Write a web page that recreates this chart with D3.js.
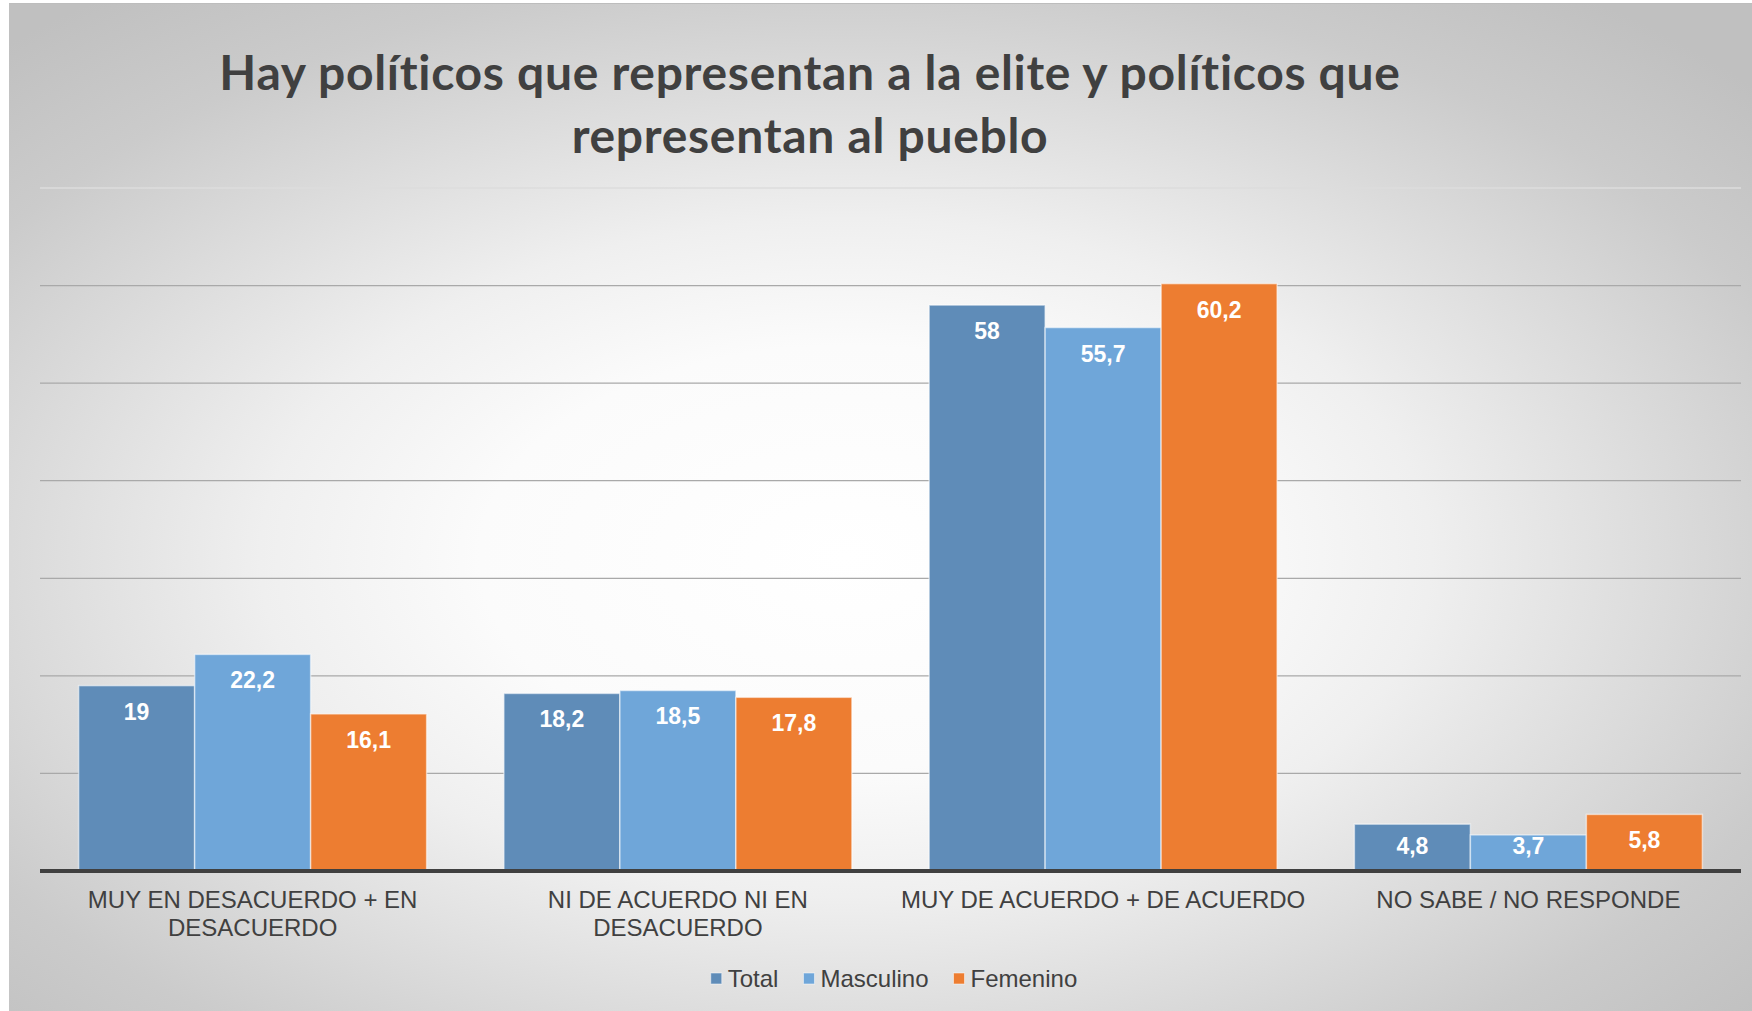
<html>
<head>
  <meta charset="utf-8">
  <title>Hay políticos que representan a la elite</title>
  <style>
    body { margin: 0; background: #ffffff; }
    svg { display: block; }
  </style>
  <script src="https://d3js.org/d3.v7.min.js"></script>
</head>
<body>
  <div id="chart"></div>
  <script>
    // Data
    var categories = ["MUY EN DESACUERDO + EN DESACUERDO", "NI DE ACUERDO NI EN DESACUERDO", "MUY DE ACUERDO + DE ACUERDO", "NO SABE / NO RESPONDE"];
    var seriesNames = ["Total", "Masculino", "Femenino"];
    var total = [19, 18.2, 58, 4.8];
    var masculino = [22.2, 18.5, 55.7, 3.7];
    var femenino = [16.1, 17.8, 60.2, 5.8];
    var titleLines = ["Hay políticos que representan a la elite y políticos que", "representan al pueblo"];

    var seriesValues = [total, masculino, femenino];
    var colors = ["#5f8cb8", "#6fa6d9", "#ed7d31"];

    var W = 1752, H = 1011;
    var plot = { left: 40, right: 1741, top: 188, bottom: 871 };

    var svg = d3.select("#chart").append("svg")
        .attr("width", W)
        .attr("height", H);

    // background gradient
    var defs = svg.append("defs");
    var grad = defs.append("radialGradient")
        .attr("id", "bg")
        .attr("cx", 0.48).attr("cy", 0.55).attr("r", 0.7);
    [[0, "#ffffff"], [0.3, "#fbfbfb"], [0.48, "#efefef"], [0.83, "#cbcbcb"], [1, "#c0c0c0"]].forEach(function(s) {
      grad.append("stop").attr("offset", s[0]).attr("stop-color", s[1]);
    });

    svg.append("rect")
        .attr("x", 9).attr("y", 3)
        .attr("width", W - 9).attr("height", H - 3)
        .attr("fill", "url(#bg)");
    svg.append("line")
        .attr("x1", 9).attr("x2", W).attr("y1", 3.5).attr("y2", 3.5)
        .attr("stroke", "#bdbdbd").attr("stroke-width", 1);

    // scales
    var x0 = d3.scaleBand()
        .domain(categories)
        .range([plot.left, plot.right])
        .padding(0);
    var x1 = d3.scaleBand()
        .domain(seriesNames)
        .range([0, x0.bandwidth()])
        .paddingInner(0)
        .paddingOuter(0.333);
    var y = d3.scaleLinear()
        .domain([0, 70])
        .range([plot.bottom, plot.top]);

    // gridlines
    var ticks = y.ticks(7).filter(function(t) { return t > 0; });
    svg.append("g").selectAll("line")
        .data(ticks)
        .enter().append("line")
        .attr("x1", plot.left).attr("x2", plot.right)
        .attr("y1", function(d) { return y(d); })
        .attr("y2", function(d) { return y(d); })
        .attr("stroke", function(d) { return d === 70 ? "#dcdcdc" : "#a9a9a9"; })
        .attr("stroke-width", 1.3);

    // title
    var title = svg.append("text")
        .attr("x", 810)
        .attr("text-anchor", "middle")
        .style("font-family", "Lato, 'Open Sans', sans-serif")
        .style("font-weight", "bold")
        .style("font-size", "48px")
        .style("letter-spacing", "0.7px")
        .attr("fill", "#404040");
    title.selectAll("tspan")
        .data(titleLines)
        .enter().append("tspan")
        .attr("x", 810)
        .attr("y", function(d, i) { return 90 + i * 63; })
        .text(function(d) { return d; });

    // bars
    var rows = categories.map(function(c, i) {
      return seriesNames.map(function(s, j) { return { category: c, series: s, value: seriesValues[j][i], color: colors[j] }; });
    });

    var groups = svg.append("g").selectAll("g")
        .data(rows)
        .enter().append("g")
        .attr("transform", function(d, i) { return "translate(" + x0(categories[i]) + ",0)"; });

    groups.selectAll("rect")
        .data(function(d) { return d; })
        .enter().append("rect")
        .attr("x", function(d) { return x1(d.series); })
        .attr("y", function(d) { return y(d.value); })
        .attr("width", x1.bandwidth())
        .attr("height", function(d) { return y(0) - y(d.value); })
        .attr("fill", function(d) { return d.color; })
        .attr("stroke", "rgba(255,255,255,0.55)")
        .attr("stroke-width", 1.5);

    groups.selectAll("text")
        .data(function(d) { return d; })
        .enter().append("text")
        .attr("x", function(d) { return x1(d.series) + x1.bandwidth() / 2; })
        .attr("y", function(d) { return Math.min(y(d.value) + 34, y(0) - 17); })
        .attr("text-anchor", "middle")
        .style("font-family", "'Liberation Sans', Arial, sans-serif")
        .style("font-weight", "bold")
        .style("font-size", "23px")
        .attr("fill", "#ffffff")
        .text(function(d) { return String(d.value).replace(".", ","); });

    // baseline
    svg.append("line")
        .attr("x1", plot.left).attr("x2", plot.right)
        .attr("y1", y(0)).attr("y2", y(0))
        .attr("stroke", "#404040")
        .attr("stroke-width", 4);

    // category labels, wrapped to the band width
    svg.append("g").selectAll("text")
        .data(categories)
        .enter().append("text")
        .attr("x", function(d) { return x0(d) + x0.bandwidth() / 2; })
        .attr("y", 908)
        .attr("text-anchor", "middle")
        .style("font-family", "'Liberation Sans', Arial, sans-serif")
        .style("font-size", "24px")
        .attr("fill", "#404040")
        .each(function(d) {
          var el = d3.select(this);
          var words = d.split(" ");
          var cx = x0(d) + x0.bandwidth() / 2;
          var line = [];
          var tspan = el.append("tspan").attr("x", cx).attr("dy", 0);
          words.forEach(function(w) {
            line.push(w);
            tspan.text(line.join(" "));
            if (tspan.node().getComputedTextLength() > x0.bandwidth() - 20 && line.length > 1) {
              line.pop();
              tspan.text(line.join(" "));
              line = [w];
              tspan = el.append("tspan").attr("x", cx).attr("dy", 28).text(w);
            }
          });
        });

    // legend
    var legend = svg.append("g");
    var items = legend.selectAll("g")
        .data(seriesNames)
        .enter().append("g");
    items.append("rect")
        .attr("width", 11).attr("height", 11)
        .attr("y", 973)
        .attr("fill", function(d, i) { return colors[i]; })
        .attr("stroke", "rgba(255,255,255,0.5)");
    items.append("text")
        .attr("x", 17)
        .attr("y", 987)
        .style("font-family", "'Liberation Sans', Arial, sans-serif")
        .style("font-size", "24px")
        .attr("fill", "#404040")
        .text(function(d) { return d; });

    var offset = 0, positions = [];
    items.each(function() {
      positions.push(offset);
      offset += 17 + d3.select(this).select("text").node().getComputedTextLength() + 25;
    });
    var legendWidth = offset - 25;
    var legendStart = 894 - legendWidth / 2;
    items.attr("transform", function(d, i) { return "translate(" + (legendStart + positions[i]) + ",0)"; });
  </script>
</body>
</html>
